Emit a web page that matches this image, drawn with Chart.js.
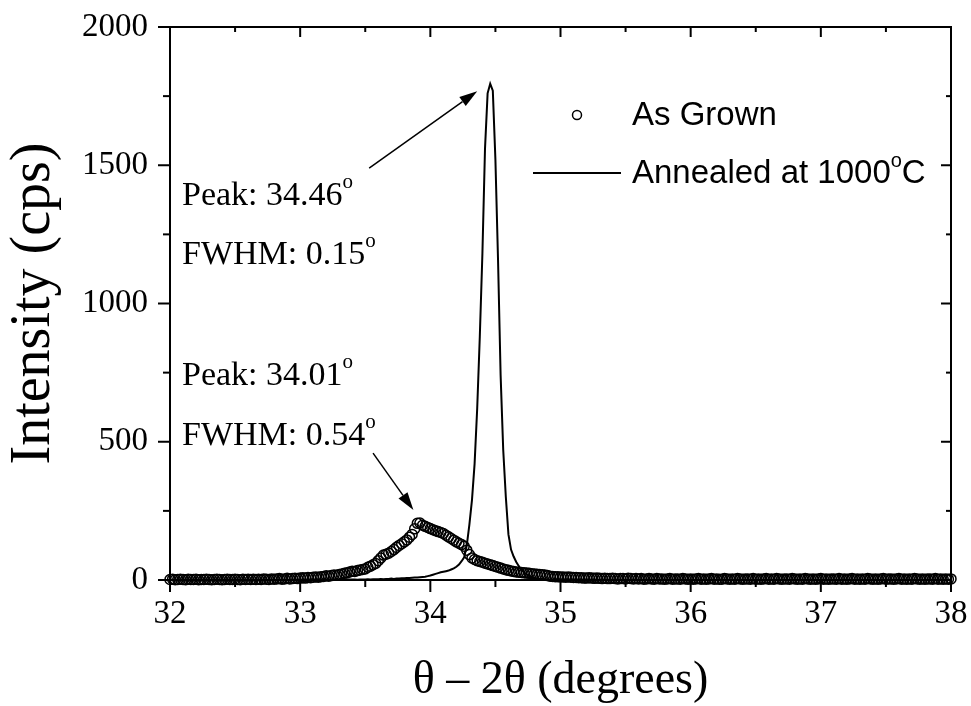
<!DOCTYPE html>
<html>
<head>
<meta charset="utf-8">
<title>XRD theta-2theta scan</title>
<script src="https://cdn.jsdelivr.net/npm/chart.js@4.4.1/dist/chart.umd.min.js"></script>
<style>
  html, body { margin: 0; padding: 0; background: #fff; }
  #wrap { width: 971px; height: 706px; }
</style>
</head>
<body>
<div id="wrap"><canvas id="xrdChart" width="971" height="706"></canvas></div>
<script>
// scan grid (degrees)
const scanStart = 32;
const scanStep = 0.02;

// As Grown intensity (cps), one value per 0.02 deg, 32.00 .. 38.00
const asGrown = [
    2, 3, 1, 2, 3, 2, 1, 3, 2, 2,
    3, 1, 2, 2, 3, 2, 1, 2, 3, 2,
    1, 2, 3, 2, 2, 3, 2, 1, 3, 2,
    3, 2, 3, 2, 3, 2, 4, 3, 2, 4,
    3, 4, 5, 3, 4, 6, 4, 5, 6, 5,
    7, 8, 7, 9, 8, 10, 11, 10, 12, 13,
    15, 14, 16, 18, 17, 20, 22, 24, 26, 29,
    32, 31, 34, 36, 38, 40, 46, 50, 55, 60,
    70, 80, 90, 93, 97, 103, 110, 118, 125, 131,
    138, 145, 155, 165, 185, 205, 206, 198, 194, 190,
    186, 182, 178, 175, 172, 168, 162, 156, 150, 144,
    138, 133, 128, 122, 108, 92, 80, 74, 70, 67,
    64, 61, 58, 55, 52, 49, 46, 43, 40, 37,
    35, 33, 31, 29, 28, 27, 26, 25, 24, 23,
    22, 21, 20, 19, 18, 16, 14, 13, 12, 12,
    11, 11, 10, 11, 10, 9, 9, 8, 8, 7,
    7, 8, 7, 6, 7, 6, 5, 6, 5, 5,
    6, 5, 4, 5, 5, 4, 6, 5, 4, 5,
    4, 5, 3, 4, 5, 4, 3, 5, 4, 4,
    3, 4, 5, 3, 4, 4, 3, 5, 4, 3,
    4, 3, 4, 5, 3, 4, 3, 4, 5, 3,
    4, 3, 3, 5, 4, 3, 4, 3, 5, 4,
    3, 4, 4, 3, 5, 3, 4, 3, 4, 5,
    3, 4, 3, 5, 4, 3, 4, 4, 3, 5,
    4, 3, 4, 3, 5, 4, 3, 4, 3, 4,
    5, 3, 4, 3, 4, 4, 3, 5, 3, 4,
    3, 4, 5, 3, 4, 3, 4, 3, 5, 4,
    3, 4, 3, 4, 5, 3, 4, 4, 3, 4,
    5, 3, 4, 3, 4, 3, 5, 4, 3, 4,
    3, 4, 4, 3, 5, 3, 4, 3, 4, 3,
    4
];

// Annealed at 1000 C intensity (cps), same grid
const annealed = [
    1, 2, 1, 1, 2, 1, 2, 1, 1, 2,
    1, 1, 2, 1, 2, 1, 1, 2, 1, 1,
    2, 1, 1, 2, 1, 2, 1, 1, 2, 1,
    1, 2, 1, 1, 2, 1, 2, 1, 1, 2,
    1, 1, 2, 1, 2, 1, 1, 2, 2, 1,
    2, 1, 2, 1, 2, 2, 1, 2, 1, 2,
    2, 1, 2, 2, 1, 2, 2, 1, 2, 2,
    2, 2, 1, 2, 2, 2, 3, 2, 3, 3,
    3, 4, 3, 4, 4, 5, 4, 5, 5, 6,
    6, 7, 7, 8, 9, 9, 10, 11, 12, 14,
    16, 19, 22, 25, 28, 30, 32, 34, 38, 42,
    48, 56, 68, 82, 125, 200, 290, 420, 620, 880,
    1180, 1560, 1760, 1795, 1770, 1520, 1160, 740, 470, 300,
    165, 110, 85, 65, 50, 38, 28, 20, 14, 10,
    7, 5, 4, 3, 3, 2, 3, 2, 2, 3,
    2, 1, 2, 2, 1, 2, 1, 2, 2, 1,
    2, 2, 1, 2, 1, 1, 2, 2, 1, 2,
    1, 2, 2, 1, 2, 1, 2, 1, 2, 2,
    1, 2, 1, 2, 2, 1, 1, 2, 1, 2,
    2, 1, 2, 1, 2, 2, 1, 2, 1, 1,
    2, 1, 1, 2, 1, 2, 2, 1, 2, 1,
    1, 2, 2, 1, 2, 1, 1, 2, 2, 1,
    2, 1, 2, 1, 1, 2, 1, 2, 1, 2,
    1, 2, 1, 2, 2, 1, 2, 1, 1, 2,
    2, 1, 2, 1, 2, 1, 2, 2, 1, 1,
    1, 2, 1, 2, 1, 2, 1, 1, 2, 2,
    2, 1, 2, 1, 2, 2, 1, 2, 1, 2,
    1, 2, 1, 1, 2, 1, 2, 2, 1, 2,
    2, 1, 2, 2, 1, 2, 1, 1, 2, 1,
    1, 2, 1, 2, 1, 2, 2, 1, 2, 1,
    2
];

const xTickValues = [32, 33, 34, 35, 36, 37, 38];
const yTickValues = [0, 500, 1000, 1500, 2000];

// arrows: [from, to] in data units
const arrows = [
    [[33.53, 1490], [34.36, 1768]],
    [[33.56, 459], [33.87, 253]]
];

const serif = "'Liberation Serif', 'Times New Roman', serif";
const sans = "'Liberation Sans', Arial, sans-serif";

function toPoints(values) {
    return values.map((v, i) => ({ x: scanStart + i * scanStep, y: v }));
}

// text with a superscript degree-style "o"
function drawSup(ctx, parts, x, y, size, family) {
    let cx = x;
    parts.forEach(([t, sup]) => {
        const fs = sup ? Math.round(size * 0.62) : size;
        ctx.font = fs + 'px ' + family;
        ctx.fillText(t, cx, sup ? y - size * 0.5 : y);
        cx += ctx.measureText(t).width;
    });
}

function drawArrow(ctx, x1, y1, x2, y2) {
    const ang = Math.atan2(y2 - y1, x2 - x1);
    const len = 18, half = 5.5;
    const bx = x2 - len * Math.cos(ang), by = y2 - len * Math.sin(ang);
    ctx.beginPath();
    ctx.moveTo(x1, y1);
    ctx.lineTo(bx, by);
    ctx.stroke();
    ctx.beginPath();
    ctx.moveTo(x2, y2);
    ctx.lineTo(bx + half * Math.sin(ang), by - half * Math.cos(ang));
    ctx.lineTo(bx - half * Math.sin(ang), by + half * Math.cos(ang));
    ctx.closePath();
    ctx.fill();
}

const framePlugin = {
    id: 'frame',
    afterDraw(chart) {
        const ctx = chart.ctx;
        const xs = chart.scales.x, ys = chart.scales.y;
        const { left, right, top, bottom } = chart.chartArea;
        ctx.save();
        ctx.strokeStyle = '#000';
        ctx.fillStyle = '#000';
        ctx.lineWidth = 2;
        ctx.strokeRect(left, top, right - left, bottom - top);

        const seg = (a, b, c, d) => { ctx.beginPath(); ctx.moveTo(a, b); ctx.lineTo(c, d); ctx.stroke(); };

        xs.ticks.forEach((t, i) => {
            const px = xs.getPixelForValue(t.value);
            seg(px, bottom, px, bottom + 12);
            seg(px, top, px, top + 10);
            if (i < xs.ticks.length - 1) {
                const mx = xs.getPixelForValue((t.value + xs.ticks[i + 1].value) / 2);
                seg(mx, bottom, mx, bottom + 7);
                seg(mx, top, mx, top + 5);
            }
        });
        ys.ticks.forEach((t, i) => {
            const py = ys.getPixelForValue(t.value);
            seg(left - 12, py, left, py);
            seg(right - 10, py, right, py);
            if (i < ys.ticks.length - 1) {
                const my = ys.getPixelForValue((t.value + ys.ticks[i + 1].value) / 2);
                seg(left - 7, my, left, my);
                seg(right - 5, my, right, my);
            }
        });

        // annotations
        ctx.textBaseline = 'alphabetic';
        ctx.textAlign = 'left';
        drawSup(ctx, [['Peak: 34.46', false], ['o', true]], 182, 205, 34, serif);
        drawSup(ctx, [['FWHM: 0.15', false], ['o', true]], 182, 264, 34, serif);
        drawSup(ctx, [['Peak: 34.01', false], ['o', true]], 182, 385, 34, serif);
        drawSup(ctx, [['FWHM: 0.54', false], ['o', true]], 182, 445, 34, serif);

        ctx.lineWidth = 1.5;
        arrows.forEach(([from, to]) => {
            drawArrow(ctx, xs.getPixelForValue(from[0]), ys.getPixelForValue(from[1]),
                xs.getPixelForValue(to[0]), ys.getPixelForValue(to[1]));
        });

        // legend
        ctx.lineWidth = 1.5;
        ctx.beginPath();
        ctx.arc(577, 115, 4.5, 0, Math.PI * 2);
        ctx.stroke();
        ctx.font = '33px ' + sans;
        ctx.fillText('As Grown', 632, 125);
        ctx.lineWidth = 2;
        seg(533, 173, 621, 173);
        drawSup(ctx, [['Annealed at 1000', false], ['o', true], ['C', false]], 632, 183, 33, sans);
        ctx.restore();
    }
};

new Chart(document.getElementById('xrdChart'), {
    type: 'scatter',
    data: {
        datasets: [{
            label: 'As Grown',
            data: toPoints(asGrown),
            showLine: false,
            pointStyle: 'circle',
            pointRadius: 5,
            pointBorderWidth: 1.5,
            pointBackgroundColor: 'rgba(0,0,0,0)',
            pointBorderColor: '#000',
            clip: 8
        }, {
            label: 'Annealed at 1000°C',
            data: toPoints(annealed),
            showLine: true,
            borderColor: '#000',
            borderWidth: 2,
            pointRadius: 0,
            tension: 0,
            clip: 4
        }]
    },
    options: {
        responsive: false,
        animation: false,
        devicePixelRatio: 1,
        layout: { padding: { top: 27, right: 20, left: 0, bottom: 0 } },
        plugins: {
            legend: { display: false },
            tooltip: { enabled: false }
        },
        scales: {
            x: {
                type: 'linear',
                min: 32,
                max: 38,
                afterBuildTicks: (scale) => { scale.ticks = xTickValues.map(v => ({ value: v })); },
                afterFit: (scale) => {
                    scale.height = 126;
                    scale.paddingLeft = 0;
                    scale.paddingRight = 0;
                },
                grid: { display: false, drawTicks: false },
                border: { display: false },
                ticks: {
                    padding: 15,
                    color: '#000',
                    font: { family: serif, size: 33 },
                    callback: (v) => String(v)
                },
                title: {
                    display: true,
                    text: 'θ – 2θ (degrees)',
                    color: '#000',
                    font: { family: serif, size: 46, lineHeight: 1 },
                    padding: { top: 0, bottom: 2 }
                }
            },
            y: {
                type: 'linear',
                min: 0,
                max: 2000,
                afterBuildTicks: (scale) => { scale.ticks = yTickValues.map(v => ({ value: v })); },
                afterFit: (scale) => {
                    scale.width = 170;
                    scale.paddingTop = 0;
                    scale.paddingBottom = 0;
                },
                grid: { display: false, drawTicks: false },
                border: { display: false },
                ticks: {
                    padding: 22,
                    color: '#000',
                    font: { family: serif, size: 33 },
                    callback: (v) => String(v)
                },
                title: {
                    display: true,
                    text: 'Intensity (cps)',
                    color: '#000',
                    font: { family: serif, size: 56, lineHeight: 1 },
                    padding: { top: 6, bottom: 0 }
                }
            }
        }
    },
    plugins: [framePlugin]
});
</script>
</body>
</html>
